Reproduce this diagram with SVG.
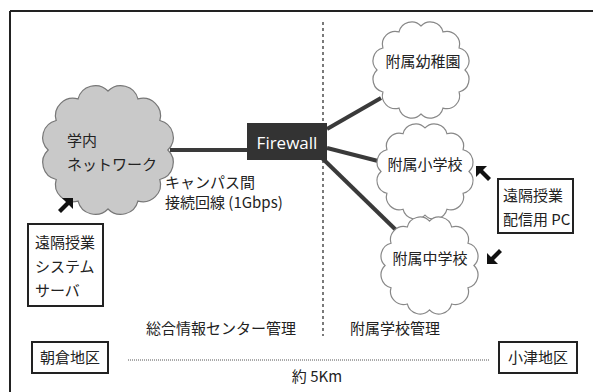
<svg xmlns="http://www.w3.org/2000/svg" xmlns:xlink="http://www.w3.org/1999/xlink" width="593" height="392" viewBox="0 0 593 392">
<style>
text{font-family:"Noto Sans CJK JP","Noto Sans",sans-serif;font-size:15px;fill:#222}
.box{fill:#fff;stroke:#222;stroke-width:2}
.link{stroke:#3a3a3a;stroke-width:4;fill:none}
.cloudw{fill:#fff;stroke:#888;stroke-width:1.2}
.cloudg{fill:#c9c9c9;stroke:#777;stroke-width:1.2}
.arrow{fill:#111}
</style>
<defs>
<symbol id="cloud" viewBox="0 0 100 100" preserveAspectRatio="none" overflow="visible">
<path vector-effect="non-scaling-stroke" d="M94,50 A13,13 0 0 1 88.1,72 A13,13 0 0 1 72,88.1 A13,13 0 0 1 50,94 A13,13 0 0 1 28,88.1 A13,13 0 0 1 11.9,72 A13,13 0 0 1 6,50 A13,13 0 0 1 11.9,28 A13,13 0 0 1 28,11.9 A13,13 0 0 1 50,6 A13,13 0 0 1 72,11.9 A13,13 0 0 1 88.1,28 A13,13 0 0 1 94,50 Z"/>
</symbol>
<path id="arr" d="M0,0 L11,0 L7,4 L15,12 L12,15 L4,7 L0,11 Z"/>
</defs>
<rect width="593" height="392" fill="#fff"/>
<g id="frame" stroke="#222" stroke-width="2" fill="none">
<line x1="10" y1="11" x2="593" y2="11"/>
<line x1="10" y1="11" x2="10" y2="392"/>
</g>
<g id="divider"><line x1="323" y1="22" x2="323" y2="336" stroke="#222" stroke-width="1.2" stroke-dasharray="3,3"/></g>
<g id="connectors">
<line class="link" x1="170" y1="150" x2="248" y2="150"/>
<line class="link" x1="327" y1="129" x2="381" y2="98"/>
<line class="link" x1="327" y1="148" x2="382" y2="162"/>
<line class="link" x1="322" y1="158" x2="397" y2="231"/>
</g>
<g id="campus-net">
<use xlink:href="#cloud" class="cloudg" x="40" y="83" width="136" height="134"/>
<text x="67" y="146">学内</text>
<text x="67" y="170">ネットワーク</text>
</g>
<g id="firewall">
<rect x="247" y="123" width="80" height="37" fill="#333"/>
<text x="287" y="149" text-anchor="middle" style="font-family:'Open Sans','Noto Sans',sans-serif;font-size:17px;fill:#fff">Firewall</text>
</g>
<g id="kindergarten">
<use xlink:href="#cloud" class="cloudw" x="371" y="20" width="100" height="100"/>
<text x="423" y="67" text-anchor="middle">附属幼稚園</text>
</g>
<g id="elementary">
<use xlink:href="#cloud" class="cloudw" x="375" y="122" width="100" height="99"/>
<text x="425" y="170" text-anchor="middle">附属小学校</text>
</g>
<g id="junior-high">
<use xlink:href="#cloud" class="cloudw" x="379" y="215" width="101" height="101"/>
<text x="430" y="264" text-anchor="middle">附属中学校</text>
</g>
<g id="label-line">
<text x="165" y="188">キャンパス間</text>
<text x="165" y="208">接続回線 (1Gbps)</text>
</g>
<g id="server">
<rect class="box" x="28" y="224" width="75" height="82"/>
<text x="35" y="248">遠隔授業</text>
<text x="35" y="272">システム</text>
<text x="35" y="296">サーバ</text>
</g>
<g id="pc">
<rect class="box" x="498" y="179" width="75" height="54"/>
<text x="503" y="201">遠隔授業</text>
<text x="503" y="225">配信用 PC</text>
</g>
<g id="arrows">
<use xlink:href="#arr" class="arrow" transform="translate(476,166)"/>
<use xlink:href="#arr" class="arrow" transform="translate(487,264) rotate(-90)"/>
<use xlink:href="#arr" class="arrow" transform="translate(73,198) rotate(90)"/>
</g>
<g id="management">
<text x="146" y="334">総合情報センター管理</text>
<text x="350" y="334">附属学校管理</text>
</g>
<g id="asakura">
<rect class="box" x="32" y="342" width="76" height="31"/>
<text x="70" y="363" text-anchor="middle">朝倉地区</text>
</g>
<g id="ozu">
<rect class="box" x="499" y="342" width="78" height="31"/>
<text x="538" y="363" text-anchor="middle">小津地区</text>
</g>
<g id="distance">
<line x1="128" y1="360" x2="489" y2="360" stroke="#555" stroke-width="1" stroke-dasharray="1,1"/>
<text x="317" y="382" text-anchor="middle">約 5Km</text>
</g>
</svg>
